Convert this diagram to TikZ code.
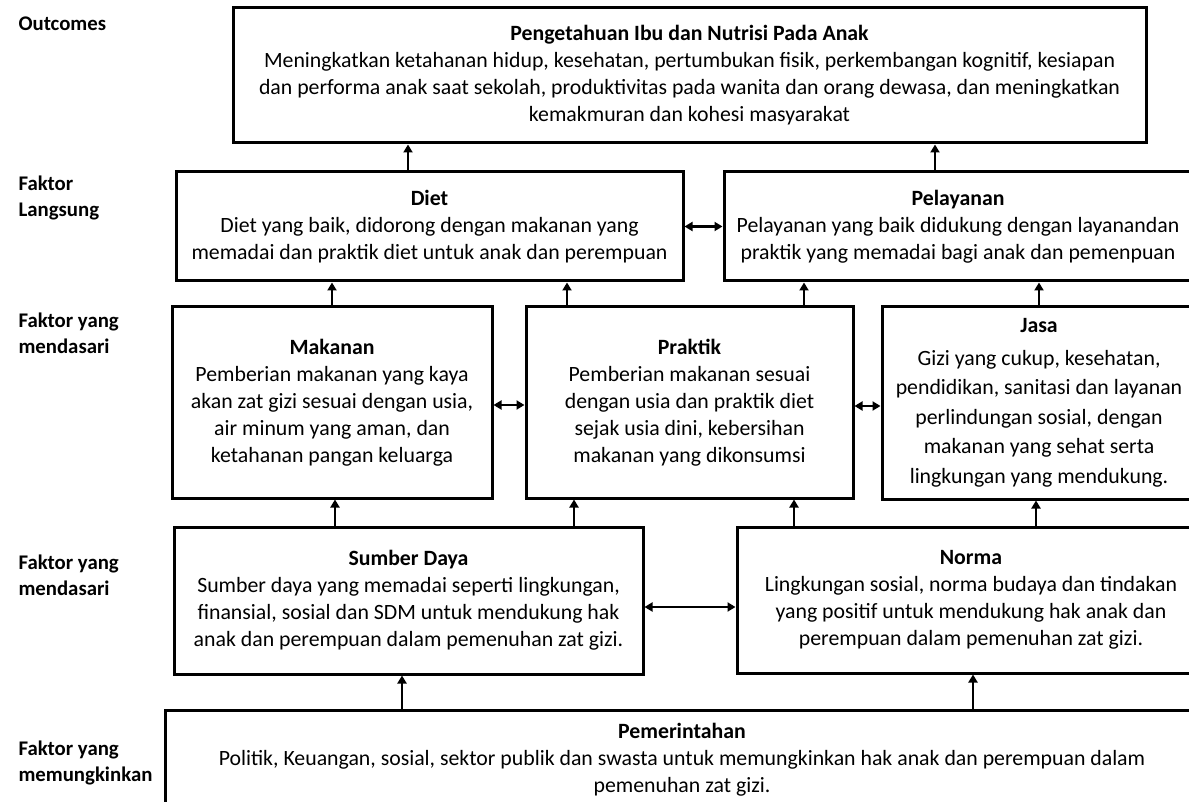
\documentclass[tikz,border=0pt]{standalone}
\usepackage{fontspec}
\setmainfont{Carlito}
\usetikzlibrary{arrows.meta}
\newcommand{\boxfont}{\fontsize{21.8}{27}\selectfont}
\newcommand{\labelfont}{\fontsize{20.8}{26}\selectfont}

\begin{document}
\begin{tikzpicture}[x=1pt, y=-1pt,
    box/.style={draw, line width=3pt, align=center, inner sep=0pt, font=\boxfont},
    rowlabel/.style={anchor=west, align=left, font=\labelfont\bfseries},
    link/.style={-{Triangle[width=9pt, length=8pt]}, line width=2.5pt},
    twoway/.style={{Triangle[width=9pt, length=8pt]}-{Triangle[width=9pt, length=8pt]}, line width=2.5pt}
  ]
    \useasboundingbox (0,0) rectangle (1189,802);
    \clip (0,0) rectangle (1189,802);

    % row labels
    \node[rowlabel] (l1) at (15,24) {Outcomes};
    \node[rowlabel] (l2) at (15,198) {Faktor\\Langsung};
    \node[rowlabel] (l3) at (15,333) {Faktor yang\\mendasari};
    \node[rowlabel] (l4) at (15,575) {Faktor yang\\mendasari};
    \node[rowlabel] (l5) at (15,763) {Faktor yang\\memungkinkan};

    % boxes
    \node[box, minimum width=913pt, minimum height=135pt] (out) at (689.5,75.5)
      {\textbf{Pengetahuan Ibu dan Nutrisi Pada Anak}\\
       Meningkatkan ketahanan hidup, kesehatan, pertumbukan fisik, perkembangan kognitif, kesiapan\\
       dan performa anak saat sekolah, produktivitas pada wanita dan orang dewasa, dan meningkatkan\\
       kemakmuran dan kohesi masyarakat};
    \node[box, minimum width=507pt, minimum height=109pt] (diet) at (429.5,226.5)
      {\textbf{Diet}\\
       Diet yang baik, didorong dengan makanan yang\\
       memadai dan praktik diet untuk anak dan perempuan};
    \node[box, minimum width=468pt, minimum height=109pt] (pel) at (958,226.5)
      {\textbf{Pelayanan}\\
       Pelayanan yang baik didukung dengan layanandan\\
       praktik yang memadai bagi anak dan pemenpuan};
    \node[box, minimum width=320pt, minimum height=191pt] (mak) at (332,402.5)
      {\textbf{Makanan}\\
       Pemberian makanan yang kaya\\
       akan zat gizi sesuai dengan usia,\\
       air minum yang aman, dan\\
       ketahanan pangan keluarga};
    \node[box, minimum width=327pt, minimum height=191pt] (prak) at (689.5,402.5)
      {\textbf{Praktik}\\
       Pemberian makanan sesuai\\
       dengan usia dan praktik diet\\
       sejak usia dini, kebersihan\\
       makanan yang dikonsumsi};
    \node[box, minimum width=314pt, minimum height=192pt, font={\fontsize{21.8}{29.5}\selectfont}] (jasa) at (1039,403)
      {\textbf{Jasa}\\[3pt]
       Gizi yang cukup, kesehatan,\\
       pendidikan, sanitasi dan layanan\\
       perlindungan sosial, dengan\\
       makanan yang sehat serta\\
       lingkungan yang mendukung.};
    \node[box, minimum width=469pt, minimum height=147pt] (sum) at (408.5,600.5)
      {\textbf{Sumber Daya}\\
       Sumber daya yang memadai seperti lingkungan,\\
       finansial, sosial dan SDM untuk mendukung hak\\
       anak dan perempuan dalam pemenuhan zat gizi.};
    \node[box, minimum width=468pt, minimum height=146pt] (norma) at (971,600)
      {\textbf{Norma}\\
       Lingkungan sosial, norma budaya dan tindakan\\
       yang positif untuk mendukung hak anak dan\\
       perempuan dalam pemenuhan zat gizi.};
    \node[box, minimum width=1034pt, minimum height=100pt] (pem) at (682,760)
      {\textbf{Pemerintahan}\\
       Politik, Keuangan, sosial, sektor publik dan swasta untuk memungkinkan hak anak dan perempuan dalam\\
       pemenuhan zat gizi.};

    % upward links
    \draw[link] ([xshift=-21.5pt]diet.north) -- ([xshift=-21.5pt]diet.north |- out.south);
    \draw[link] ([xshift=-23pt]pel.north) -- ([xshift=-23pt]pel.north |- out.south);
    \draw[link] (mak.north) -- (mak.north |- diet.south);
    \draw[link] ([xshift=-122.5pt]prak.north) -- ([xshift=-122.5pt]prak.north |- diet.south);
    \draw[link] ([xshift=114.5pt]prak.north) -- ([xshift=114.5pt]prak.north |- pel.south);
    \draw[link] (jasa.north) -- (jasa.north |- pel.south);
    \draw[link] ([xshift=-73.5pt]sum.north) -- ([xshift=-73.5pt]sum.north |- mak.south);
    \draw[link] ([xshift=165.5pt]sum.north) -- ([xshift=165.5pt]sum.north |- prak.south);
    \draw[link] ([xshift=-177pt]norma.north) -- ([xshift=-177pt]norma.north |- prak.south);
    \draw[link] ([xshift=65pt]norma.north) -- ([xshift=65pt]norma.north |- jasa.south);
    \draw[link] ([xshift=-280pt]pem.north) -- ([xshift=-280pt]pem.north |- sum.south);
    \draw[link] ([xshift=291pt]pem.north) -- ([xshift=291pt]pem.north |- norma.south);

    % two-way links
    \draw[twoway] (diet.east) -- (pel.west);
    \draw[twoway] ([yshift=-2.5pt]mak.east) -- ([yshift=-2.5pt]mak.east -| prak.west);
    \draw[twoway] ([yshift=-3.5pt]prak.east) -- ([yshift=-3.5pt]prak.east -| jasa.west);
    \draw[twoway] ([yshift=-6.5pt]sum.east) -- ([yshift=-6.5pt]sum.east -| norma.west);
  \end{tikzpicture}
\end{document}
